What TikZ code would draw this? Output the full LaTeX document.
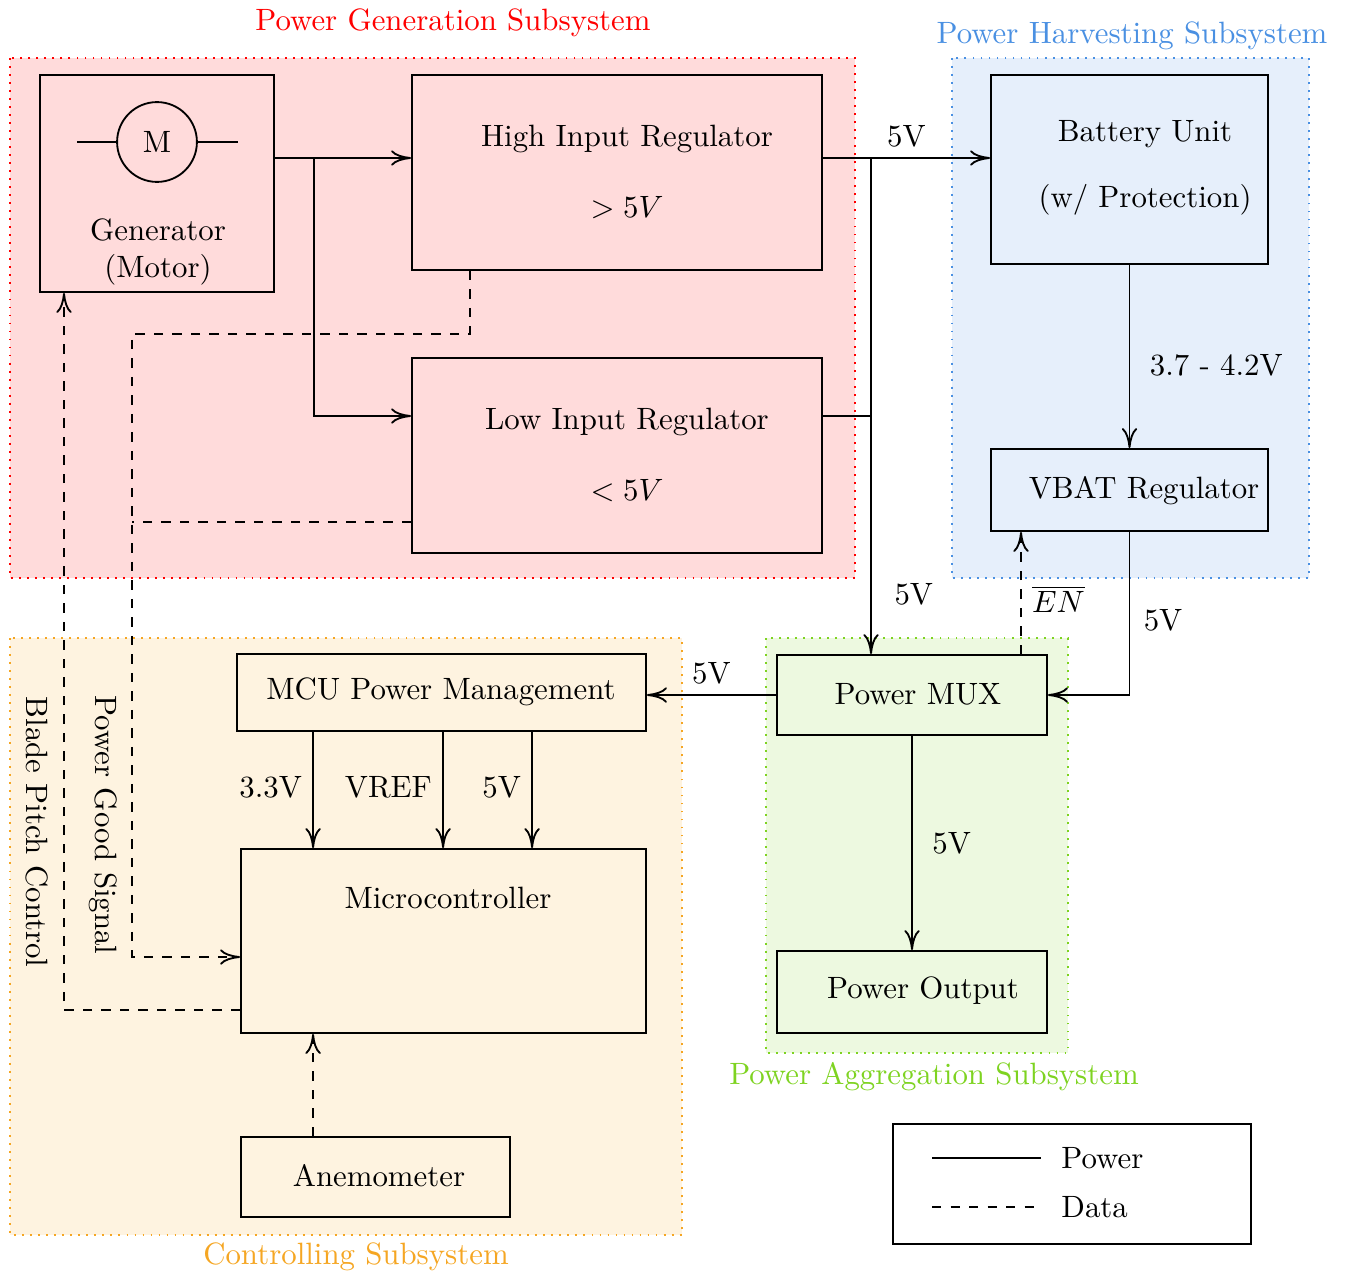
\documentclass[tikz,border=0pt]{standalone}
\usetikzlibrary{fit,calc,arrows.meta}
\definecolor{genred}{HTML}{FF0000}
\definecolor{harvblue}{HTML}{4A90E2}
\definecolor{ctrlorange}{HTML}{F5A623}
\definecolor{aggrgreen}{HTML}{7ED321}
\tikzset{
    blk/.style={draw, semithick, rectangle, inner sep=0pt},
    pwr/.style={semithick, ->},
    dat/.style={semithick, dashed, ->},
    subsys/.style={dotted, semithick, draw=#1, fill=#1!14},
}
\begin{document}
\begin{tikzpicture}[>={Computer Modern Rightarrow[length=6.5pt, width=5pt]}, x=0.0114cm, y=-0.0114cm]
\useasboundingbox (0,0) rectangle (1347,1275);
\filldraw[subsys=genred](10,58) rectangle (855,578);
\filldraw[subsys=harvblue](952,58) rectangle (1309,578);
\filldraw[subsys=ctrlorange](10,638) rectangle (682,1235);
\filldraw[subsys=aggrgreen](766,638) rectangle (1068,1053);
\node[text=genred] (gentitle) at (453,23) {Power Generation Subsystem};
\node[text=harvblue] (harvtitle) at (1132,36) {Power Harvesting Subsystem};
\node[text=ctrlorange] (ctrltitle) at (356,1257) {Controlling Subsystem};
\node[text=aggrgreen] (aggrtitle) at (934,1077) {Power Aggregation Subsystem};

\node[blk, fit={(40,75) (274,292)}] (gen) {};
\node[blk, fit={(412,75) (822,270)}] (hreg) {};
\node[blk, fit={(412,358) (822,553)}] (lreg) {};
\node[blk, fit={(991,75) (1268,264)}] (batt) {};
\node[blk, fit={(991,449) (1268,531)}] (vbat) {};
\node[blk, fit={(777,655) (1047,735)}] (mux) {};
\node[blk, fit={(777,951) (1047,1033)}] (pout) {};
\node[blk, fit={(237,654) (646,731)}] (mcupm) {};
\node[blk, fit={(241,849) (646,1033)}] (mcu) {};
\node[blk, fit={(241,1137) (510,1217)}] (anemo) {};
\node[blk, fit={(893,1124) (1251,1244)}] (legend) {};

\node[draw, semithick, circle, minimum size=0.91cm, inner sep=0pt] (motor) at (157,142) {M};
\draw[semithick](motor.west)--++(-39,0);
\draw[semithick](motor.east)--++(40,0);
\node[align=center] (gentxt) at (158,252) {Generator\\(Motor)};
\node[align=center] (hregtxt) at (627,172) {High Input Regulator\\[11pt]$>5V$};
\node[align=center] (lregtxt) at (627,455) {Low Input Regulator\\[11pt]$<5V$};
\node[align=center] (batttxt) at (1145,168) {Battery Unit\\[9.5pt](w/ Protection)};
\node (vbattxt) at (1144,491) {VBAT Regulator};
\node (muxtxt) at (918,694) {Power MUX};
\node (pouttxt) at (923,991) {Power Output};
\node (mcupmtxt) at (441,692) {MCU Power Management};
\node (mcutxt) at (448,898) {Microcontroller};
\node (anemotxt) at (379,1176) {Anemometer};

% power paths
\coordinate (jgen) at (314,158);
\coordinate (jlow) at (314,416);
\coordinate (jreg) at (871,158);
\coordinate (jlreg) at (871,416);
\draw[pwr](gen.east |- jgen)--(hreg.west |- jgen);
\draw[pwr](jgen)--(jlow)--(lreg.west |- jlow);
\draw[pwr](hreg.east |- jreg)--node[above]{5V}(batt.west |- jreg);
\draw[semithick](lreg.east |- jlreg)--(jlreg);
\draw[pwr](jreg)--node[pos=0.88, right=4pt]{5V}(mux.north -| jreg);
\draw[pwr](batt.south)--node[pos=0.55, right=3pt]{3.7 - 4.2V}(vbat.north);
\draw[pwr](vbat.south)|-node[pos=0.27, right=1pt]{5V}(mux.east);
\draw[pwr](mux.west)--node[above]{5V}(mcupm.east |- mux.west);
\draw[pwr](mux.south)--node[right=3pt]{5V}(pout.north);
\foreach \dx/\lbl in {77/3.3V, 207/VREF, 296/5V}
{
    \draw[pwr]($(mcupm.south west)+(\dx,0)$) coordinate (tap)--node[pos=0.48, left]{\lbl}(tap |- mcu.north);
}

% data paths
\draw[dat]($(mux.north)+(109,0)$) coordinate (ensrc)--node[pos=0.45, right]{$\overline{EN}$}(ensrc |- vbat.south);
\draw[dat]($(anemo.north west)+(73,0)$) coordinate (ansrc)--(ansrc |- mcu.south);
\coordinate (pgbend) at (132,334);
\coordinate (pgend) at (132,957);
\coordinate (pglow) at (132,522);
\draw[dat]($(hreg.south west)+(59,0)$)|-(pgbend)--(pgend)--(mcu.west |- pgend);
\draw[semithick, dashed](lreg.west |- pglow)--(pglow);
\node[rotate=-90] (pgtxt) at (103,825) {Power Good Signal};
\coordinate (bpbend) at (64,1010);
\draw[dat](mcu.west |- bpbend)--(bpbend)--(bpbend |- gen.south);
\node[rotate=-90] (bptxt) at (37,832) {Blade Pitch Control};

% legend
\coordinate (lpa) at (932,1158);
\coordinate (lpb) at (1041,1158);
\coordinate (lda) at (932,1207);
\coordinate (ldb) at (1041,1207);
\draw[semithick](lpa)--(lpb)node[right=3pt] (lgpwr) {Power};
\draw[semithick, dashed](lda)--(ldb)node[right=3pt] (lgdat) {Data};
\end{tikzpicture}
\end{document}
